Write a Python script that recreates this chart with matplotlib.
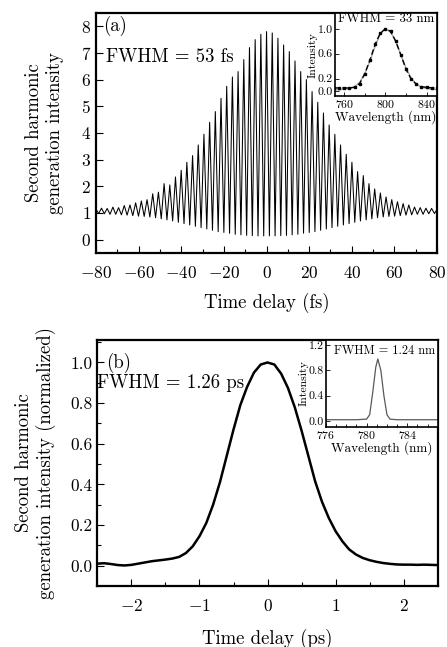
import numpy as np
import matplotlib

matplotlib.use("Agg")
import matplotlib.pyplot as plt
from matplotlib.ticker import MultipleLocator, FormatStrFormatter

plt.rcParams["font.family"] = "cmr10"
plt.rcParams["mathtext.fontset"] = "cm"
plt.rcParams["axes.formatter.use_mathtext"] = True
plt.rcParams["axes.unicode_minus"] = True

# ---- panel (a): interferometric autocorrelation (fringe maxima / minima) ----
fringe_period_fs = 2.67
peak_index = np.arange(-30, 31)
peak_vals = [1.15, 1.18, 1.17, 1.22, 1.20, 1.28, 1.30, 1.38, 1.45, 1.50,
             1.72, 1.78, 2.10, 2.05, 2.35, 2.60, 2.90, 3.15, 3.55, 3.95,
             4.40, 4.80, 5.30, 5.75, 6.10, 6.30, 6.75, 7.20, 7.50, 7.70,
             7.80,
             7.75, 7.55, 7.30, 7.05, 6.70, 6.30, 6.00, 5.55, 5.15, 4.75,
             4.30, 3.95, 3.55, 3.20, 2.90, 2.55, 2.40, 2.10, 1.90, 1.75,
             1.60, 1.50, 1.42, 1.35, 1.30, 1.22, 1.20, 1.18, 1.17, 1.15]
trough_vals = [0.98, 0.97, 0.95, 0.95, 0.93, 0.92, 0.90, 0.88, 0.87, 0.85,
               0.82, 0.78, 0.74, 0.70, 0.65, 0.60, 0.55, 0.50, 0.45, 0.40,
               0.35, 0.30, 0.27, 0.24, 0.20, 0.18, 0.16, 0.15, 0.14, 0.14,
               0.14, 0.14, 0.15, 0.16, 0.18, 0.20, 0.24, 0.27, 0.30, 0.35,
               0.40, 0.45, 0.50, 0.55, 0.60, 0.65, 0.70, 0.74, 0.78, 0.82,
               0.85, 0.87, 0.88, 0.90, 0.92, 0.93, 0.95, 0.95, 0.97, 0.98]

# inset (a): spectrum
wl_a = [750, 755, 760, 765, 770, 775, 780, 785, 790, 795, 800,
        805, 810, 815, 820, 825, 830, 835, 840, 845, 850]
spec_meas_a = [0.05, 0.05, 0.05, 0.05, 0.06, 0.12, 0.28, 0.50, 0.75, 0.93, 1.00,
               0.96, 0.80, 0.58, 0.35, 0.19, 0.11, 0.07, 0.06, 0.05, 0.05]
spec_fit_a = [0.02, 0.02, 0.03, 0.04, 0.07, 0.14, 0.28, 0.48, 0.72, 0.92, 1.00,
              0.95, 0.80, 0.58, 0.37, 0.21, 0.11, 0.06, 0.04, 0.03, 0.02]

# ---- panel (b): intensity autocorrelation ----
delay_ps = np.round(np.arange(-2.5, 2.51, 0.1), 2)
shg_b = [0.010, 0.012, 0.008, 0.003, 0.001, 0.004, 0.010, 0.016, 0.022, 0.026,
         0.030, 0.035, 0.043, 0.062, 0.095, 0.145, 0.210, 0.300, 0.410, 0.540,
         0.670, 0.790, 0.880, 0.950, 0.990, 1.000, 0.990, 0.945, 0.875, 0.780,
         0.665, 0.540, 0.415, 0.315, 0.235, 0.170, 0.120, 0.080, 0.055, 0.038,
         0.027, 0.019, 0.013, 0.009, 0.006, 0.005, 0.005, 0.004, 0.005, 0.004,
         0.003]

# inset (b): spectrum
wl_b = [776, 777, 778, 779, 780, 780.3, 780.6, 780.9, 781.1, 781.4, 781.7,
        782.0, 782.3, 783, 784, 785, 786, 787]
spec_b = [0.02, 0.02, 0.02, 0.02, 0.03, 0.10, 0.45, 0.85, 0.98, 0.80, 0.40,
          0.10, 0.03, 0.02, 0.02, 0.02, 0.02, 0.02]


def style_main(ax):
    for s in ax.spines.values():
        s.set_linewidth(1.6)
    ax.tick_params(which="both", direction="in", top=False, right=False, labelsize=12.5)
    ax.tick_params(axis="x", pad=9)
    ax.tick_params(which="major", length=5, width=0.8)
    ax.tick_params(which="minor", length=3, width=0.8)


def style_inset(ax):
    for s in ax.spines.values():
        s.set_linewidth(1.2)
    ax.tick_params(which="both", direction="in", top=False, right=False, labelsize=8.5, pad=1.5)
    ax.tick_params(which="major", length=3, width=0.6)
    ax.tick_params(which="minor", length=2, width=0.6)


fig = plt.figure(figsize=(4.47, 6.47), dpi=100)

# ---------------- panel (a) ----------------
ax_a = fig.add_axes([0.2148, 0.609, 0.763, 0.371])
t_peaks = peak_index * fringe_period_fs
t_troughs = (peak_index[:-1] + 0.5) * fringe_period_fs
t_all = np.empty(len(t_peaks) + len(t_troughs))
v_all = np.empty_like(t_all)
t_all[0::2] = t_peaks
t_all[1::2] = t_troughs
v_all[0::2] = peak_vals
v_all[1::2] = trough_vals
ax_a.plot(t_all, v_all, color="black", lw=0.75)
ax_a.set_xlim(-80, 80)
ax_a.set_ylim(-0.5, 8.5)
ax_a.xaxis.set_major_locator(MultipleLocator(20))
ax_a.xaxis.set_minor_locator(MultipleLocator(10))
ax_a.yaxis.set_major_locator(MultipleLocator(1))
style_main(ax_a)
ax_a.set_xlabel("Time delay (fs)", fontsize=13.5, labelpad=8)
ax_a.set_ylabel("Second harmonic\ngeneration intensity", fontsize=13.5, labelpad=12, linespacing=1.25)
ax_a.text(-76.5, 8.0, "(a)", fontsize=13.5, va="center")
ax_a.text(-75.5, 6.83, "FWHM = 53 fs", fontsize=13.5, va="center")

ins_a = fig.add_axes([0.7494, 0.8516, 0.228, 0.128])
ins_a.plot(wl_a, spec_fit_a, color="0.65", lw=1.0)
ins_a.plot(wl_a, spec_meas_a, color="black", lw=1.0, ls=(0, (4, 2)), marker="s", ms=1.5)
ins_a.set_xlim(751, 850)
ins_a.set_ylim(-0.08, 1.25)
ins_a.set_xticks([760, 800, 840])
ins_a.xaxis.set_minor_locator(MultipleLocator(20))
ins_a.set_yticks([0.0, 0.2, 0.6, 1.0])
ins_a.set_yticklabels(["0.0", "0.2", "0.6", "1.0"])
style_inset(ins_a)
ins_a.set_xlabel("Wavelength (nm)", fontsize=9.5, labelpad=0)
ins_a.set_ylabel("Intensity", fontsize=8.5, labelpad=0)
ins_a.text(0.5, 0.93, "FWHM = 33 nm", transform=ins_a.transAxes, ha="center", va="center", fontsize=9.3)

# ---------------- panel (b) ----------------
ax_b = fig.add_axes([0.218, 0.0943, 0.761, 0.380])
ax_b.plot(delay_ps, shg_b, color="black", lw=1.8)
ax_b.set_xlim(-2.5, 2.5)
ax_b.set_ylim(-0.1, 1.11)
ax_b.xaxis.set_major_locator(MultipleLocator(1))
ax_b.xaxis.set_minor_locator(MultipleLocator(0.5))
ax_b.yaxis.set_major_locator(MultipleLocator(0.2))
ax_b.yaxis.set_minor_locator(MultipleLocator(0.1))
ax_b.yaxis.set_major_formatter(FormatStrFormatter("%.1f"))
style_main(ax_b)
ax_b.set_xlabel("Time delay (ps)", fontsize=13.5, labelpad=10)
ax_b.set_ylabel("Second harmonic\ngeneration intensity (normalized)", fontsize=13.5, labelpad=10,
                linespacing=1.25)
ax_b.text(-2.37, 1.0, "(b)", fontsize=13.5, va="center")
ax_b.text(-2.5, 0.9, "FWHM = 1.26 ps", fontsize=13.5, va="center")

ins_b = fig.add_axes([0.7293, 0.3405, 0.25, 0.134])
ins_b.plot(wl_b, spec_b, color="0.35", lw=0.9)
ins_b.set_xlim(776, 787)
ins_b.set_ylim(-0.09, 1.28)
ins_b.set_xticks([776, 780, 784])
ins_b.xaxis.set_minor_locator(MultipleLocator(1))
ins_b.set_yticks([0.0, 0.4, 0.8, 1.2])
ins_b.set_yticklabels(["0.0", "0.4", "0.8", "1.2"])
style_inset(ins_b)
ins_b.set_xlabel("Wavelength (nm)", fontsize=9.5, labelpad=0)
ins_b.set_ylabel("Intensity", fontsize=8.5, labelpad=0)
ins_b.text(0.52, 0.87, "FWHM = 1.24 nm", transform=ins_b.transAxes, ha="center", va="center", fontsize=8.8)

fig.savefig("out.png", dpi=100)
